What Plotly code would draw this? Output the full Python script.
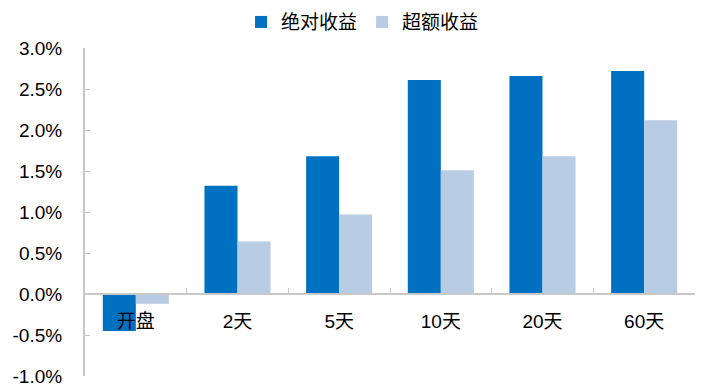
import plotly.graph_objects as go

categories = ["开盘", "2天", "5天", "10天", "20天", "60天"]
absolute_return = [-0.45, 1.32, 1.68, 2.61, 2.66, 2.72]
excess_return = [-0.12, 0.64, 0.97, 1.51, 1.68, 2.12]
y_tick_vals = [-1.0, -0.5, 0.0, 0.5, 1.0, 1.5, 2.0, 2.5, 3.0]
y_tick_text = ["-1.0%", "-0.5%", "0.0%", "0.5%", "1.0%", "1.5%", "2.0%", "2.5%", "3.0%"]

font_family = "Liberation Sans, Arial, Noto Sans CJK SC"

fig = go.Figure()
fig.add_trace(go.Bar(x=categories, y=absolute_return, name="绝对收益",
                     marker=dict(color="#0070C0", line=dict(width=0))))
fig.add_trace(go.Bar(x=categories, y=excess_return, name="超额收益",
                     marker=dict(color="#B8CCE4", line=dict(width=0))))

fig.update_layout(
    width=705, height=390,
    margin=dict(l=77, r=18, t=40, b=22, autoexpand=False),
    paper_bgcolor="white", plot_bgcolor="white",
    barmode="group", bargap=0.35, bargroupgap=0,
    font=dict(family=font_family, size=17, color="#000000"),
    showlegend=True,
    legend=dict(orientation="h", x=0.455, xanchor="center", y=1.079, yanchor="middle",
                font=dict(family="Noto Sans CJK SC", size=19), itemwidth=30,
                bgcolor="rgba(0,0,0,0)"),
    xaxis=dict(
        anchor="free", position=0.25,
        showline=True, linecolor="#C8C8C8", linewidth=2,
        ticks="inside", ticklen=5, tickcolor="#C8C8C8", tickwidth=1,
        tickson="boundaries",
        showgrid=False, zeroline=False,
        ticklabelstandoff=10,
        tickfont=dict(family="Liberation Sans, Noto Sans CJK SC", size=19),
    ),
    yaxis=dict(
        range=[-1.0, 3.0], domain=[0, 1],
        tickvals=y_tick_vals, ticktext=y_tick_text,
        showline=True, linecolor="#C8C8C8", linewidth=2,
        ticks="inside", ticklen=5, tickcolor="#C8C8C8", tickwidth=1,
        showgrid=False, zeroline=False,
        ticklabelstandoff=17,
        tickfont=dict(family="Liberation Sans, Arial", size=19),
    ),
)

fig.write_html("out.html")
